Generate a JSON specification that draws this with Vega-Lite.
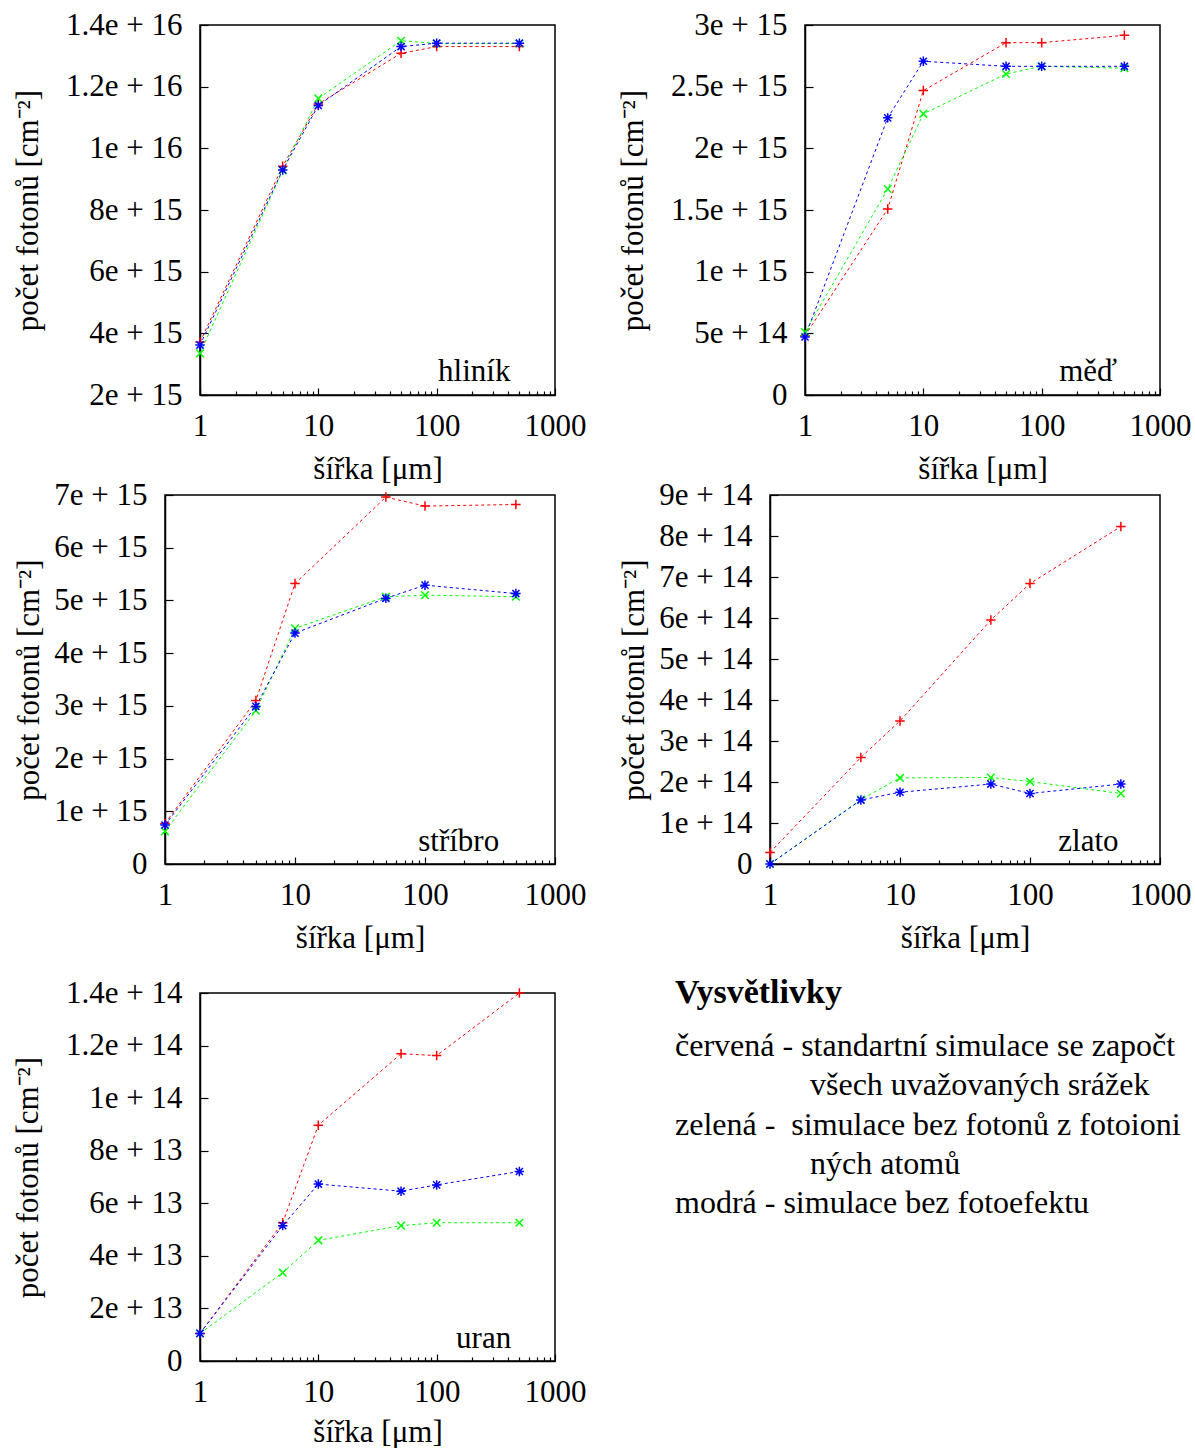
{
  "$schema": "https://vega.github.io/schema/vega-lite/v6.json",
  "padding": {"left": 11, "top": 8, "right": 0, "bottom": 0},
  "config": {
    "font": "Liberation Serif",
    "view": {"stroke": "black", "strokeWidth": 1.5},
    "axis": {
      "labelFont": "Liberation Serif", "titleFont": "Liberation Serif",
      "labelFontSize": 31, "titleFontSize": 31, "titleFontWeight": "normal",
      "labelColor": "black", "titleColor": "black",
      "domainColor": "black", "domainWidth": 1.5,
      "tickColor": "black", "tickWidth": 1.2,
      "grid": false, "labelFlush": false, "labelOverlap": false
    }
  },
  "data": {"values": [
    {"material": "hliník", "simulace": "standartní", "sirka": 1, "pocet": 3.72e15},
    {"material": "hliník", "simulace": "standartní", "sirka": 5, "pocet": 9.42e15},
    {"material": "hliník", "simulace": "standartní", "sirka": 10, "pocet": 1.144e16},
    {"material": "hliník", "simulace": "standartní", "sirka": 50, "pocet": 1.308e16},
    {"material": "hliník", "simulace": "standartní", "sirka": 100, "pocet": 1.33e16},
    {"material": "hliník", "simulace": "standartní", "sirka": 500, "pocet": 1.33e16},
    {"material": "hliník", "simulace": "bez fotoionizovaných", "sirka": 1, "pocet": 3.35e15},
    {"material": "hliník", "simulace": "bez fotoionizovaných", "sirka": 5, "pocet": 9.28e15},
    {"material": "hliník", "simulace": "bez fotoionizovaných", "sirka": 10, "pocet": 1.162e16},
    {"material": "hliník", "simulace": "bez fotoionizovaných", "sirka": 50, "pocet": 1.349e16},
    {"material": "hliník", "simulace": "bez fotoionizovaných", "sirka": 100, "pocet": 1.34e16},
    {"material": "hliník", "simulace": "bez fotoionizovaných", "sirka": 500, "pocet": 1.34e16},
    {"material": "hliník", "simulace": "bez fotoefektu", "sirka": 1, "pocet": 3.62e15},
    {"material": "hliník", "simulace": "bez fotoefektu", "sirka": 5, "pocet": 9.3e15},
    {"material": "hliník", "simulace": "bez fotoefektu", "sirka": 10, "pocet": 1.139e16},
    {"material": "hliník", "simulace": "bez fotoefektu", "sirka": 50, "pocet": 1.33e16},
    {"material": "hliník", "simulace": "bez fotoefektu", "sirka": 100, "pocet": 1.341e16},
    {"material": "hliník", "simulace": "bez fotoefektu", "sirka": 500, "pocet": 1.341e16},

    {"material": "měď", "simulace": "standartní", "sirka": 1, "pocet": 4.8e14},
    {"material": "měď", "simulace": "standartní", "sirka": 5, "pocet": 1.508e15},
    {"material": "měď", "simulace": "standartní", "sirka": 10, "pocet": 2.468e15},
    {"material": "měď", "simulace": "standartní", "sirka": 50, "pocet": 2.857e15},
    {"material": "měď", "simulace": "standartní", "sirka": 100, "pocet": 2.857e15},
    {"material": "měď", "simulace": "standartní", "sirka": 500, "pocet": 2.916e15},
    {"material": "měď", "simulace": "bez fotoionizovaných", "sirka": 1, "pocet": 5.1e14},
    {"material": "měď", "simulace": "bez fotoionizovaných", "sirka": 5, "pocet": 1.67e15},
    {"material": "měď", "simulace": "bez fotoionizovaných", "sirka": 10, "pocet": 2.28e15},
    {"material": "měď", "simulace": "bez fotoionizovaných", "sirka": 50, "pocet": 2.603e15},
    {"material": "měď", "simulace": "bez fotoionizovaných", "sirka": 100, "pocet": 2.665e15},
    {"material": "měď", "simulace": "bez fotoionizovaných", "sirka": 500, "pocet": 2.65e15},
    {"material": "měď", "simulace": "bez fotoefektu", "sirka": 1, "pocet": 4.7e14},
    {"material": "měď", "simulace": "bez fotoefektu", "sirka": 5, "pocet": 2.247e15},
    {"material": "měď", "simulace": "bez fotoefektu", "sirka": 10, "pocet": 2.706e15},
    {"material": "měď", "simulace": "bez fotoefektu", "sirka": 50, "pocet": 2.665e15},
    {"material": "měď", "simulace": "bez fotoefektu", "sirka": 100, "pocet": 2.665e15},
    {"material": "měď", "simulace": "bez fotoefektu", "sirka": 500, "pocet": 2.665e15},

    {"material": "stříbro", "simulace": "standartní", "sirka": 1, "pocet": 7.7e14},
    {"material": "stříbro", "simulace": "standartní", "sirka": 5, "pocet": 3.1e15},
    {"material": "stříbro", "simulace": "standartní", "sirka": 10, "pocet": 5.32e15},
    {"material": "stříbro", "simulace": "standartní", "sirka": 50, "pocet": 6.96e15},
    {"material": "stříbro", "simulace": "standartní", "sirka": 100, "pocet": 6.79e15},
    {"material": "stříbro", "simulace": "standartní", "sirka": 500, "pocet": 6.82e15},
    {"material": "stříbro", "simulace": "bez fotoionizovaných", "sirka": 1, "pocet": 6.2e14},
    {"material": "stříbro", "simulace": "bez fotoionizovaných", "sirka": 5, "pocet": 2.91e15},
    {"material": "stříbro", "simulace": "bez fotoionizovaných", "sirka": 10, "pocet": 4.47e15},
    {"material": "stříbro", "simulace": "bez fotoionizovaných", "sirka": 50, "pocet": 5.07e15},
    {"material": "stříbro", "simulace": "bez fotoionizovaných", "sirka": 100, "pocet": 5.1e15},
    {"material": "stříbro", "simulace": "bez fotoionizovaných", "sirka": 500, "pocet": 5.07e15},
    {"material": "stříbro", "simulace": "bez fotoefektu", "sirka": 1, "pocet": 7.4e14},
    {"material": "stříbro", "simulace": "bez fotoefektu", "sirka": 5, "pocet": 2.99e15},
    {"material": "stříbro", "simulace": "bez fotoefektu", "sirka": 10, "pocet": 4.38e15},
    {"material": "stříbro", "simulace": "bez fotoefektu", "sirka": 50, "pocet": 5.04e15},
    {"material": "stříbro", "simulace": "bez fotoefektu", "sirka": 100, "pocet": 5.29e15},
    {"material": "stříbro", "simulace": "bez fotoefektu", "sirka": 500, "pocet": 5.13e15},

    {"material": "zlato", "simulace": "standartní", "sirka": 1, "pocet": 2.8e13},
    {"material": "zlato", "simulace": "standartní", "sirka": 5, "pocet": 2.6e14},
    {"material": "zlato", "simulace": "standartní", "sirka": 10, "pocet": 3.49e14},
    {"material": "zlato", "simulace": "standartní", "sirka": 50, "pocet": 5.95e14},
    {"material": "zlato", "simulace": "standartní", "sirka": 100, "pocet": 6.84e14},
    {"material": "zlato", "simulace": "standartní", "sirka": 500, "pocet": 8.23e14},
    {"material": "zlato", "simulace": "bez fotoionizovaných", "sirka": 1, "pocet": 0},
    {"material": "zlato", "simulace": "bez fotoionizovaných", "sirka": 5, "pocet": 1.57e14},
    {"material": "zlato", "simulace": "bez fotoionizovaných", "sirka": 10, "pocet": 2.1e14},
    {"material": "zlato", "simulace": "bez fotoionizovaných", "sirka": 50, "pocet": 2.11e14},
    {"material": "zlato", "simulace": "bez fotoionizovaných", "sirka": 100, "pocet": 2.01e14},
    {"material": "zlato", "simulace": "bez fotoionizovaných", "sirka": 500, "pocet": 1.72e14},
    {"material": "zlato", "simulace": "bez fotoefektu", "sirka": 1, "pocet": 0},
    {"material": "zlato", "simulace": "bez fotoefektu", "sirka": 5, "pocet": 1.56e14},
    {"material": "zlato", "simulace": "bez fotoefektu", "sirka": 10, "pocet": 1.75e14},
    {"material": "zlato", "simulace": "bez fotoefektu", "sirka": 50, "pocet": 1.95e14},
    {"material": "zlato", "simulace": "bez fotoefektu", "sirka": 100, "pocet": 1.72e14},
    {"material": "zlato", "simulace": "bez fotoefektu", "sirka": 500, "pocet": 1.95e14},

    {"material": "uran", "simulace": "standartní", "sirka": 1, "pocet": 1.05e13},
    {"material": "uran", "simulace": "standartní", "sirka": 5, "pocet": 5.26e13},
    {"material": "uran", "simulace": "standartní", "sirka": 10, "pocet": 8.97e13},
    {"material": "uran", "simulace": "standartní", "sirka": 50, "pocet": 1.169e14},
    {"material": "uran", "simulace": "standartní", "sirka": 100, "pocet": 1.162e14},
    {"material": "uran", "simulace": "standartní", "sirka": 500, "pocet": 1.4e14},
    {"material": "uran", "simulace": "bez fotoionizovaných", "sirka": 1, "pocet": 1.05e13},
    {"material": "uran", "simulace": "bez fotoionizovaných", "sirka": 5, "pocet": 3.36e13},
    {"material": "uran", "simulace": "bez fotoionizovaných", "sirka": 10, "pocet": 4.59e13},
    {"material": "uran", "simulace": "bez fotoionizovaných", "sirka": 50, "pocet": 5.15e13},
    {"material": "uran", "simulace": "bez fotoionizovaných", "sirka": 100, "pocet": 5.26e13},
    {"material": "uran", "simulace": "bez fotoionizovaných", "sirka": 500, "pocet": 5.26e13},
    {"material": "uran", "simulace": "bez fotoefektu", "sirka": 1, "pocet": 1.05e13},
    {"material": "uran", "simulace": "bez fotoefektu", "sirka": 5, "pocet": 5.15e13},
    {"material": "uran", "simulace": "bez fotoefektu", "sirka": 10, "pocet": 6.73e13},
    {"material": "uran", "simulace": "bez fotoefektu", "sirka": 50, "pocet": 6.46e13},
    {"material": "uran", "simulace": "bez fotoefektu", "sirka": 100, "pocet": 6.7e13},
    {"material": "uran", "simulace": "bez fotoefektu", "sirka": 500, "pocet": 7.21e13}
  ]},
  "spacing": 22,
  "vconcat": [
    {
      "spacing": -7,
      "vconcat": [
        {
          "bounds": "flush", "spacing": 0,
          "hconcat": [
            {"width": 35, "height": 1, "data": {"values": []}, "mark": {"type": "point"}, "view": {"stroke": null}},
            {
              "bounds": "flush", "spacing": 250,
              "hconcat": [
                {
                  "width": 355, "height": 370,
                  "encoding": {
                    "y": {"field": "pocet", "type": "quantitative", "scale": {"domain": [2e15, 1.4e16], "nice": false, "zero": false},
                          "axis": {"values": [2e15, 4e15, 6e15, 8e15, 1e16, 1.2e16, 1.4e16], "labelExpr": "datum.value === 0 ? '0' : replace(format(datum.value, '~e'), 'e+', 'e + ')", "tickSize": -8, "labelPadding": 26, "title": "počet fotonů [cm⁻²]", "titleX": -172, "titleBaseline": "middle"}}
                  },
                  "layer": [
                    {"transform": [{"filter": "datum.material === 'hliník'"}],
                     "mark": {"type": "line", "strokeDash": [3, 3], "strokeWidth": 1},
                     "encoding": {
                       "x": {"field": "sirka", "type": "quantitative", "scale": {"type": "log", "domain": [1, 1000], "nice": false},
                             "axis": {"orient": "bottom", "values": [1, 10, 100, 1000], "format": "d", "tickSize": -7, "labelPadding": 47, "labelBaseline": "alphabetic", "title": "šířka [μm]", "titleY": 83, "titleBaseline": "alphabetic"}},
                       "color": {"field": "simulace", "type": "nominal", "legend": null, "scale": {"domain": ["standartní", "bez fotoionizovaných", "bez fotoefektu"], "range": ["#ff0000", "#00ff00", "#0000ff"]}}
                     }},
                    {"transform": [{"filter": "datum.material === 'hliník'"}],
                     "mark": {"type": "point", "filled": false, "strokeWidth": 1.5, "size": 90, "opacity": 1},
                     "encoding": {
                       "x": {"field": "sirka", "type": "quantitative",
                             "axis": {"orient": "bottom", "values": [2, 3, 4, 5, 6, 7, 8, 9, 20, 30, 40, 50, 60, 70, 80, 90, 200, 300, 400, 500, 600, 700, 800, 900], "tickSize": -4, "labels": false, "domain": false, "title": null}},
                       "color": {"field": "simulace", "type": "nominal", "legend": null},
                       "shape": {"field": "simulace", "type": "nominal", "legend": null, "scale": {"domain": ["standartní", "bez fotoionizovaných", "bez fotoefektu"], "range": ["M-1,0L1,0M0,-1L0,1", "M-0.8,-0.8L0.8,0.8M-0.8,0.8L0.8,-0.8", "M-1,0L1,0M0,-1L0,1M-0.75,-0.75L0.75,0.75M-0.75,0.75L0.75,-0.75"]}}
                     }},
                    {"transform": [{"filter": "datum.material === 'hliník' && datum.sirka === 1 && datum.simulace === 'standartní'"}],
                     "mark": {"type": "text", "align": "right", "baseline": "middle", "fontSize": 31, "fill": "black", "font": "Liberation Serif"},
                     "encoding": {
                       "x": {"datum": 420, "type": "quantitative", "axis": null},
                       "y": {"datum": 2.75e15, "type": "quantitative"},
                       "text": {"field": "material", "type": "nominal"}
                     }}
                  ],
                  "resolve": {"axis": {"x": "independent"}}
                },
                {
                  "width": 355, "height": 370,
                  "encoding": {
                    "y": {"field": "pocet", "type": "quantitative", "scale": {"domain": [0, 3e15], "nice": false},
                          "axis": {"values": [0, 5e14, 1e15, 1.5e15, 2e15, 2.5e15, 3e15], "labelExpr": "datum.value === 0 ? '0' : replace(format(datum.value, '~e'), 'e+', 'e + ')", "tickSize": -8, "labelPadding": 26, "title": "počet fotonů [cm⁻²]", "titleX": -172, "titleBaseline": "middle"}}
                  },
                  "layer": [
                    {"transform": [{"filter": "datum.material === 'měď'"}],
                     "mark": {"type": "line", "strokeDash": [3, 3], "strokeWidth": 1},
                     "encoding": {
                       "x": {"field": "sirka", "type": "quantitative", "scale": {"type": "log", "domain": [1, 1000], "nice": false},
                             "axis": {"orient": "bottom", "values": [1, 10, 100, 1000], "format": "d", "tickSize": -7, "labelPadding": 47, "labelBaseline": "alphabetic", "title": "šířka [μm]", "titleY": 83, "titleBaseline": "alphabetic"}},
                       "color": {"field": "simulace", "type": "nominal", "legend": null, "scale": {"domain": ["standartní", "bez fotoionizovaných", "bez fotoefektu"], "range": ["#ff0000", "#00ff00", "#0000ff"]}}
                     }},
                    {"transform": [{"filter": "datum.material === 'měď'"}],
                     "mark": {"type": "point", "filled": false, "strokeWidth": 1.5, "size": 90, "opacity": 1},
                     "encoding": {
                       "x": {"field": "sirka", "type": "quantitative",
                             "axis": {"orient": "bottom", "values": [2, 3, 4, 5, 6, 7, 8, 9, 20, 30, 40, 50, 60, 70, 80, 90, 200, 300, 400, 500, 600, 700, 800, 900], "tickSize": -4, "labels": false, "domain": false, "title": null}},
                       "color": {"field": "simulace", "type": "nominal", "legend": null},
                       "shape": {"field": "simulace", "type": "nominal", "legend": null, "scale": {"domain": ["standartní", "bez fotoionizovaných", "bez fotoefektu"], "range": ["M-1,0L1,0M0,-1L0,1", "M-0.8,-0.8L0.8,0.8M-0.8,0.8L0.8,-0.8", "M-1,0L1,0M0,-1L0,1M-0.75,-0.75L0.75,0.75M-0.75,0.75L0.75,-0.75"]}}
                     }},
                    {"transform": [{"filter": "datum.material === 'měď' && datum.sirka === 1 && datum.simulace === 'standartní'"}],
                     "mark": {"type": "text", "align": "right", "baseline": "middle", "fontSize": 31, "fill": "black", "font": "Liberation Serif"},
                     "encoding": {
                       "x": {"datum": 434, "type": "quantitative", "axis": null},
                       "y": {"datum": 1.86e14, "type": "quantitative"},
                       "text": {"field": "material", "type": "nominal"}
                     }}
                  ],
                  "resolve": {"axis": {"x": "independent"}}
                }
              ]
            }
          ]
        },
        {
          "bounds": "flush", "spacing": 215,
          "hconcat": [
            {
              "width": 390, "height": 369,
              "encoding": {
                "y": {"field": "pocet", "type": "quantitative", "scale": {"domain": [0, 7e15], "nice": false},
                      "axis": {"values": [0, 1e15, 2e15, 3e15, 4e15, 5e15, 6e15, 7e15], "labelExpr": "datum.value === 0 ? '0' : replace(format(datum.value, '~e'), 'e+', 'e + ')", "tickSize": -8, "labelPadding": 26, "title": "počet fotonů [cm⁻²]", "titleX": -136, "titleBaseline": "middle"}}
              },
              "layer": [
                {"transform": [{"filter": "datum.material === 'stříbro'"}],
                 "mark": {"type": "line", "strokeDash": [3, 3], "strokeWidth": 1},
                 "encoding": {
                   "x": {"field": "sirka", "type": "quantitative", "scale": {"type": "log", "domain": [1, 1000], "nice": false},
                         "axis": {"orient": "bottom", "values": [1, 10, 100, 1000], "format": "d", "tickSize": -7, "labelPadding": 47, "labelBaseline": "alphabetic", "title": "šířka [μm]", "titleY": 83, "titleBaseline": "alphabetic"}},
                   "color": {"field": "simulace", "type": "nominal", "legend": null, "scale": {"domain": ["standartní", "bez fotoionizovaných", "bez fotoefektu"], "range": ["#ff0000", "#00ff00", "#0000ff"]}}
                 }},
                {"transform": [{"filter": "datum.material === 'stříbro'"}],
                 "mark": {"type": "point", "filled": false, "strokeWidth": 1.5, "size": 90, "opacity": 1},
                 "encoding": {
                   "x": {"field": "sirka", "type": "quantitative",
                         "axis": {"orient": "bottom", "values": [2, 3, 4, 5, 6, 7, 8, 9, 20, 30, 40, 50, 60, 70, 80, 90, 200, 300, 400, 500, 600, 700, 800, 900], "tickSize": -4, "labels": false, "domain": false, "title": null}},
                   "color": {"field": "simulace", "type": "nominal", "legend": null},
                   "shape": {"field": "simulace", "type": "nominal", "legend": null, "scale": {"domain": ["standartní", "bez fotoionizovaných", "bez fotoefektu"], "range": ["M-1,0L1,0M0,-1L0,1", "M-0.8,-0.8L0.8,0.8M-0.8,0.8L0.8,-0.8", "M-1,0L1,0M0,-1L0,1M-0.75,-0.75L0.75,0.75M-0.75,0.75L0.75,-0.75"]}}
                 }},
                {"transform": [{"filter": "datum.material === 'stříbro' && datum.sirka === 1 && datum.simulace === 'standartní'"}],
                 "mark": {"type": "text", "align": "right", "baseline": "middle", "fontSize": 31, "fill": "black", "font": "Liberation Serif"},
                 "encoding": {
                   "x": {"datum": 372, "type": "quantitative", "axis": null},
                   "y": {"datum": 4.2e14, "type": "quantitative"},
                   "text": {"field": "material", "type": "nominal"}
                 }}
              ],
              "resolve": {"axis": {"x": "independent"}}
            },
            {
              "width": 390, "height": 369,
              "encoding": {
                "y": {"field": "pocet", "type": "quantitative", "scale": {"domain": [0, 9e14], "nice": false},
                      "axis": {"values": [0, 1e14, 2e14, 3e14, 4e14, 5e14, 6e14, 7e14, 8e14, 9e14], "labelExpr": "datum.value === 0 ? '0' : replace(format(datum.value, '~e'), 'e+', 'e + ')", "tickSize": -8, "labelPadding": 26, "title": "počet fotonů [cm⁻²]", "titleX": -136, "titleBaseline": "middle"}}
              },
              "layer": [
                {"transform": [{"filter": "datum.material === 'zlato'"}],
                 "mark": {"type": "line", "strokeDash": [3, 3], "strokeWidth": 1},
                 "encoding": {
                   "x": {"field": "sirka", "type": "quantitative", "scale": {"type": "log", "domain": [1, 1000], "nice": false},
                         "axis": {"orient": "bottom", "values": [1, 10, 100, 1000], "format": "d", "tickSize": -7, "labelPadding": 47, "labelBaseline": "alphabetic", "title": "šířka [μm]", "titleY": 83, "titleBaseline": "alphabetic"}},
                   "color": {"field": "simulace", "type": "nominal", "legend": null, "scale": {"domain": ["standartní", "bez fotoionizovaných", "bez fotoefektu"], "range": ["#ff0000", "#00ff00", "#0000ff"]}}
                 }},
                {"transform": [{"filter": "datum.material === 'zlato'"}],
                 "mark": {"type": "point", "filled": false, "strokeWidth": 1.5, "size": 90, "opacity": 1},
                 "encoding": {
                   "x": {"field": "sirka", "type": "quantitative",
                         "axis": {"orient": "bottom", "values": [2, 3, 4, 5, 6, 7, 8, 9, 20, 30, 40, 50, 60, 70, 80, 90, 200, 300, 400, 500, 600, 700, 800, 900], "tickSize": -4, "labels": false, "domain": false, "title": null}},
                   "color": {"field": "simulace", "type": "nominal", "legend": null},
                   "shape": {"field": "simulace", "type": "nominal", "legend": null, "scale": {"domain": ["standartní", "bez fotoionizovaných", "bez fotoefektu"], "range": ["M-1,0L1,0M0,-1L0,1", "M-0.8,-0.8L0.8,0.8M-0.8,0.8L0.8,-0.8", "M-1,0L1,0M0,-1L0,1M-0.75,-0.75L0.75,0.75M-0.75,0.75L0.75,-0.75"]}}
                 }},
                {"transform": [{"filter": "datum.material === 'zlato' && datum.sirka === 1 && datum.simulace === 'standartní'"}],
                 "mark": {"type": "text", "align": "right", "baseline": "middle", "fontSize": 31, "fill": "black", "font": "Liberation Serif"},
                 "encoding": {
                   "x": {"datum": 480, "type": "quantitative", "axis": null},
                   "y": {"datum": 5.4e13, "type": "quantitative"},
                   "text": {"field": "material", "type": "nominal"}
                 }}
              ],
              "resolve": {"axis": {"x": "independent"}}
            }
          ]
        }
      ]
    },
    {
      "bounds": "flush", "spacing": 0,
      "hconcat": [
        {"width": 35, "height": 1, "data": {"values": []}, "mark": {"type": "point"}, "view": {"stroke": null}},
        {
          "bounds": "flush", "spacing": 120,
          "hconcat": [
            {
              "width": 355, "height": 368,
              "encoding": {
                "y": {"field": "pocet", "type": "quantitative", "scale": {"domain": [0, 1.4e14], "nice": false},
                      "axis": {"values": [0, 2e13, 4e13, 6e13, 8e13, 1e14, 1.2e14, 1.4e14], "labelExpr": "datum.value === 0 ? '0' : replace(format(datum.value, '~e'), 'e+', 'e + ')", "tickSize": -8, "labelPadding": 26, "title": "počet fotonů [cm⁻²]", "titleX": -172, "titleBaseline": "middle"}}
              },
              "layer": [
                {"transform": [{"filter": "datum.material === 'uran'"}],
                 "mark": {"type": "line", "strokeDash": [3, 3], "strokeWidth": 1},
                 "encoding": {
                   "x": {"field": "sirka", "type": "quantitative", "scale": {"type": "log", "domain": [1, 1000], "nice": false},
                         "axis": {"orient": "bottom", "values": [1, 10, 100, 1000], "format": "d", "tickSize": -7, "labelPadding": 47, "labelBaseline": "alphabetic", "title": "šířka [μm]", "titleY": 80, "titleBaseline": "alphabetic"}},
                   "color": {"field": "simulace", "type": "nominal", "legend": null, "scale": {"domain": ["standartní", "bez fotoionizovaných", "bez fotoefektu"], "range": ["#ff0000", "#00ff00", "#0000ff"]}}
                 }},
                {"transform": [{"filter": "datum.material === 'uran'"}],
                 "mark": {"type": "point", "filled": false, "strokeWidth": 1.5, "size": 90, "opacity": 1},
                 "encoding": {
                   "x": {"field": "sirka", "type": "quantitative",
                         "axis": {"orient": "bottom", "values": [2, 3, 4, 5, 6, 7, 8, 9, 20, 30, 40, 50, 60, 70, 80, 90, 200, 300, 400, 500, 600, 700, 800, 900], "tickSize": -4, "labels": false, "domain": false, "title": null}},
                   "color": {"field": "simulace", "type": "nominal", "legend": null},
                   "shape": {"field": "simulace", "type": "nominal", "legend": null, "scale": {"domain": ["standartní", "bez fotoionizovaných", "bez fotoefektu"], "range": ["M-1,0L1,0M0,-1L0,1", "M-0.8,-0.8L0.8,0.8M-0.8,0.8L0.8,-0.8", "M-1,0L1,0M0,-1L0,1M-0.75,-0.75L0.75,0.75M-0.75,0.75L0.75,-0.75"]}}
                 }},
                {"transform": [{"filter": "datum.material === 'uran' && datum.sirka === 1 && datum.simulace === 'standartní'"}],
                 "mark": {"type": "text", "align": "right", "baseline": "middle", "fontSize": 31, "fill": "black", "font": "Liberation Serif"},
                 "encoding": {
                   "x": {"datum": 426, "type": "quantitative", "axis": null},
                   "y": {"datum": 8.4e12, "type": "quantitative"},
                   "text": {"field": "material", "type": "nominal"}
                 }}
              ],
              "resolve": {"axis": {"x": "independent"}}
            },
            {
              "width": 400, "height": 368,
              "view": {"stroke": null},
              "data": {"values": [
                {"radek": 0, "druh": "položka", "text": "Vysvětlivky"},
                {"radek": 1, "druh": "položka", "text": "červená - standartní simulace se započtením"},
                {"radek": 2, "druh": "pokračování", "text": "všech uvažovaných srážek"},
                {"radek": 3, "druh": "položka", "text": "zelená -\u00a0 simulace bez fotonů z fotoionizova-"},
                {"radek": 4, "druh": "pokračování", "text": "ných atomů"},
                {"radek": 5, "druh": "položka", "text": "modrá - simulace bez fotoefektu"}
              ]},
              "encoding": {
                "x": {"field": "druh", "type": "nominal", "scale": {"type": "point", "domain": ["položka", "pokračování"], "range": [0, 135], "padding": 0}, "axis": null},
                "y": {"field": "radek", "type": "ordinal", "scale": {"type": "point", "domain": [0, 1, 2, 3, 4, 5], "range": [14, 210], "padding": 0}, "axis": null},
                "text": {"field": "text"}
              },
              "layer": [
                {"transform": [{"filter": "datum.radek === 0"}],
                 "mark": {"type": "text", "align": "left", "baseline": "middle", "fontSize": 34, "fontWeight": "bold", "dy": -14, "font": "Liberation Serif"}},
                {"transform": [{"filter": "datum.radek > 0"}],
                 "mark": {"type": "text", "align": "left", "baseline": "middle", "fontSize": 32, "limit": 518, "ellipsis": " ", "font": "Liberation Serif"}}
              ]
            }
          ]
        }
      ]
    }
  ]
}
